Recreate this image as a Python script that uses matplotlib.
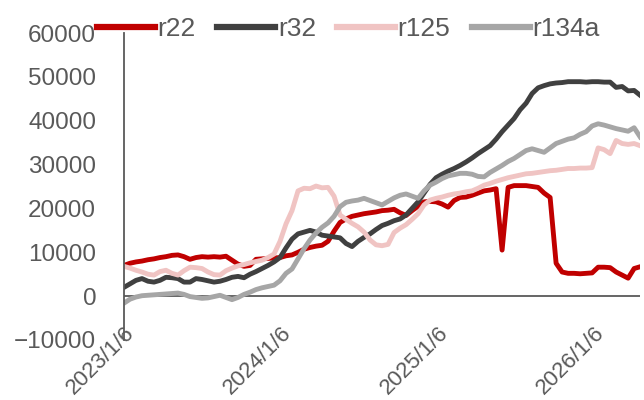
import numpy as np
import pandas as pd
import matplotlib
matplotlib.use("Agg")
import matplotlib.pyplot as plt

# biweekly readings, 2023/1/6 .. 2026/4/24
dates = pd.date_range("2023-01-06", periods=87, freq="14D")

r22 = [7000, 7500, 7800, 8000, 8300, 8500, 8800, 9000, 9300, 9400,
       9000, 8400, 8800, 9000, 8900, 9000, 8900, 9100, 8200, 7300,
       6800, 7000, 8400, 8500, 8600, 8700, 8800, 9200, 9400, 10000,
       10700, 11100, 11400, 11600, 12500, 14800, 16800, 17600, 18200, 18500,
       18800, 19000, 19200, 19500, 19600, 19800, 19000, 18400, 19500, 20500,
       21500, 21600, 21500, 21000, 20300, 21800, 22500, 22600, 23000, 23500,
       24000, 24200, 24500, 10500, 24800, 25200, 25200, 25200, 25000, 24800,
       23500, 22500, 7500, 5500, 5200, 5200, 5100, 5200, 5300, 6600,
       6600, 6500, 5500, 4800, 4100, 6300, 6700]

r32 = [2000, 2800, 3600, 4000, 3400, 3200, 3600, 4300, 4200, 4000,
       3200, 3200, 4000, 3800, 3500, 3200, 3400, 3800, 4300, 4500,
       4200, 5000, 5600, 6300, 7000, 7800, 8800, 11000, 13000, 14200,
       14600, 15000, 14600, 13900, 13700, 13500, 13300, 12000, 11300, 12500,
       13400, 14200, 15200, 16100, 16600, 17200, 17600, 18500, 20000, 21500,
       23500, 25500, 27000, 27800, 28500, 29100, 29800, 30600, 31500, 32500,
       33400, 34300, 35800, 37500, 39000, 40500, 42500, 44000, 46200, 47500,
       48000, 48400, 48600, 48700, 48900, 48900, 48900, 48800, 48900, 48900,
       48800, 48800, 47600, 47800, 46800, 46900, 45800]

r125 = [6800, 6400, 5900, 5500, 5000, 4800, 5600, 5900, 5200, 4800,
        5800, 6600, 6500, 6300, 5500, 4900, 4800, 5800, 6400, 6900,
        7200, 7600, 7900, 8200, 8800, 9600, 12500, 16500, 19500, 24000,
        24600, 24500, 25100, 24700, 24800, 22800, 18500, 17500, 16600, 15800,
        14600, 12800, 11700, 11500, 11800, 14500, 15500, 16300, 17500, 18800,
        20800, 21900, 22300, 22600, 23000, 23300, 23500, 23800, 24000, 24600,
        25300, 25700, 26200, 26600, 27000, 27300, 27600, 27900, 28000, 28200,
        28400, 28600, 28700, 28900, 29100, 29100, 29200, 29200, 29300, 33800,
        33400, 32500, 35500, 34800, 34600, 34800, 34300]

r134a = [-1600, -700, -200, 100, 200, 300, 400, 500, 600, 700,
         400, -100, -300, -500, -400, -100, 200, -300, -800, -300,
         400, 900, 1500, 1900, 2200, 2500, 3500, 5200, 6200, 8500,
         10800, 12800, 14400, 15700, 16700, 18200, 20400, 21400, 21700, 21900,
         22300, 21800, 21300, 20800, 21600, 22400, 23000, 23300, 22800, 22300,
         24000, 25300, 26000, 26800, 27400, 27700, 28000, 28000, 27800, 27300,
         27200, 28200, 29000, 29800, 30700, 31400, 32300, 33200, 33600, 33200,
         32800, 33800, 34800, 35300, 35800, 36100, 36900, 37500, 38800, 39300,
         39000, 38600, 38200, 37900, 37600, 38400, 36300]

series_names = ["r22", "r32", "r125", "r134a"]
series_colors = ["#C00000", "#404040", "#F0C4C3", "#A6A6A6"]
tick_dates = pd.to_datetime(["2023-01-06", "2024-01-06", "2025-01-06", "2026-01-06"])
tick_labels = ["2023/1/6", "2024/1/6", "2025/1/6", "2026/1/6"]

plt.rcParams["font.family"] = ["Liberation Sans", "DejaVu Sans"]
txt = "#595959"
fs = 17.5

fig = plt.figure(figsize=(6.44, 4.0), dpi=100)
ax = fig.add_axes([0.1925, 0.15, 0.8015, 0.7675])

for vals, name, col in zip([r22, r32, r125, r134a], series_names, series_colors):
    ax.plot(dates, vals, color=col, lw=3.5, label=name, solid_joinstyle="round")

ax.set_xlim(dates[0], dates[-1])
ax.set_ylim(-10000, 60000)
ax.set_yticks(np.arange(-10000, 60001, 10000))
ax.set_xticks(tick_dates)
ax.set_xticklabels(tick_labels, rotation=45, ha="right", va="top",
                   rotation_mode="anchor")

for s in ["top", "right", "bottom"]:
    ax.spines[s].set_visible(False)
ax.spines["left"].set_color(txt)
ax.spines["left"].set_linewidth(1.3)
ax.axhline(0, color=txt, lw=1.3, zorder=1)

ax.tick_params(axis="y", length=0, pad=20, labelsize=fs, labelcolor=txt)
ax.tick_params(axis="x", length=0, pad=-13, labelsize=16, labelcolor=txt)

fig.legend(loc="center left", bbox_to_anchor=(97 / 644, 1 - 29 / 400),
           ncol=4, frameon=False, fontsize=19, labelcolor=txt,
           handlelength=2.2, handletextpad=0.1, columnspacing=0.8,
           borderpad=0, borderaxespad=0)
for h in fig.legends[0].get_lines():
    h.set_linewidth(4.5)

fig.savefig("out.png", dpi=100)
